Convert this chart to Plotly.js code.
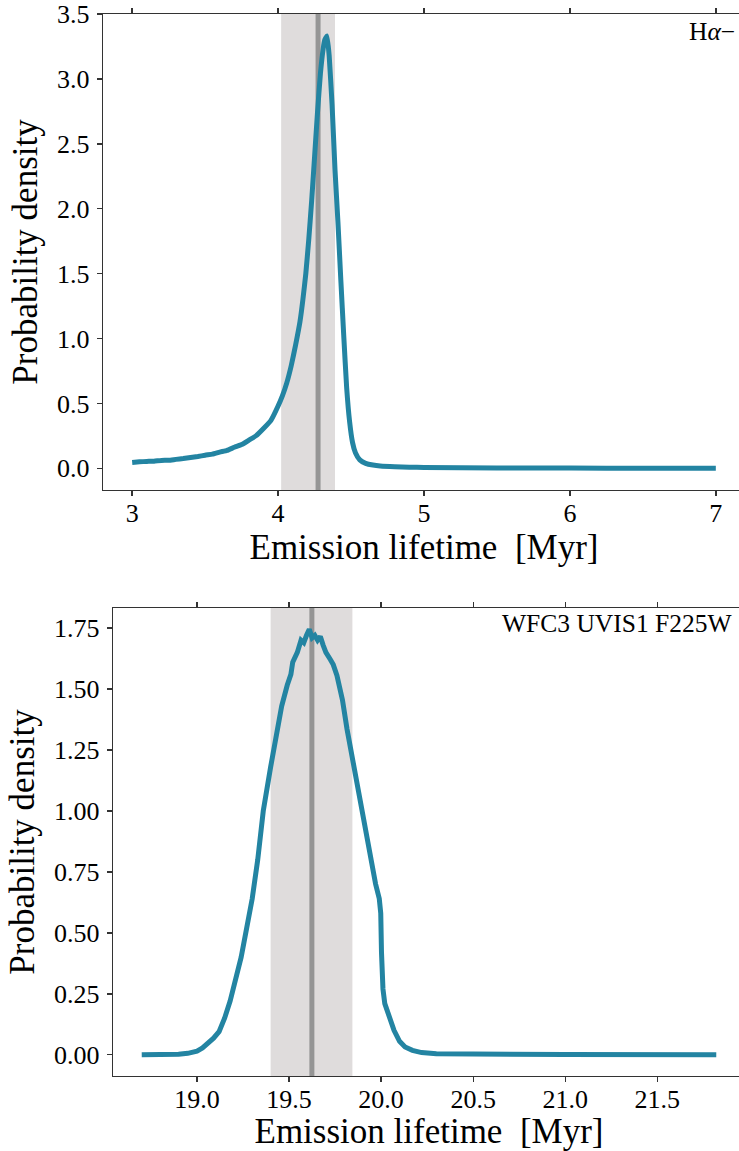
<!DOCTYPE html>
<html>
<head>
<meta charset="utf-8">
<script src="https://cdn.plot.ly/plotly-3.0.1.min.js"></script>
<style>
  html, body { margin: 0; padding: 0; background: #ffffff; overflow: hidden; width: 739px; height: 1151px; }
  #chart { width: 746px; height: 1151px; }
</style>
</head>
<body>
<div id="chart"></div>
<script>
// H-alpha emission lifetime posterior
const haLifetime = [3.00, 3.05, 3.10, 3.15, 3.20, 3.25, 3.30, 3.35, 3.40, 3.45, 3.50, 3.55, 3.60,
  3.65, 3.70, 3.75, 3.80, 3.85, 3.90, 3.95, 4.00, 4.03, 4.06, 4.09, 4.12, 4.15, 4.17, 4.19, 4.21,
  4.23, 4.25, 4.27, 4.29, 4.31, 4.32, 4.335, 4.35, 4.37, 4.39, 4.41, 4.43, 4.45, 4.47, 4.49, 4.51,
  4.53, 4.56, 4.60, 4.65, 4.70, 4.80, 4.90, 5.00, 5.50, 6.00, 6.50, 7.00];
const haDensity = [0.045, 0.050, 0.053, 0.055, 0.061, 0.062, 0.069, 0.075, 0.083, 0.091, 0.101, 0.109, 0.125,
  0.138, 0.162, 0.183, 0.217, 0.252, 0.307, 0.368, 0.480, 0.56, 0.66, 0.79, 0.95, 1.13, 1.30, 1.50, 1.76,
  2.06, 2.40, 2.74, 3.04, 3.24, 3.30, 3.33, 3.18, 2.80, 2.30, 1.90, 1.45, 1.02, 0.62, 0.36, 0.20,
  0.12, 0.065, 0.038, 0.025, 0.018, 0.012, 0.009, 0.006, 0.003, 0.002, 0.001, 0.000];
const haMedian = [4.274];
const haInterval = [4.021, 4.390];

// WFC3 UVIS1 F225W emission lifetime posterior
const uvLifetime = [18.70, 18.80, 18.90, 18.95, 19.00, 19.03, 19.06, 19.09, 19.12, 19.15, 19.18, 19.21,
  19.24, 19.27, 19.30, 19.33, 19.36, 19.40, 19.43, 19.46, 19.49, 19.51, 19.52, 19.545, 19.565, 19.58,
  19.595, 19.61, 19.625, 19.64, 19.655, 19.67, 19.685, 19.70, 19.725, 19.74, 19.76, 19.79, 19.815,
  19.85, 19.89, 19.92, 19.95, 19.97, 19.99, 19.998, 20.002, 20.01, 20.02, 20.04, 20.07, 20.10, 20.13,
  20.17, 20.22, 20.30, 20.50, 21.00, 21.82];
const uvDensity = [0.000, 0.000, 0.002, 0.006, 0.015, 0.028, 0.045, 0.068, 0.095, 0.150, 0.220, 0.310,
  0.400, 0.520, 0.640, 0.800, 1.000, 1.180, 1.310, 1.430, 1.515, 1.560, 1.610, 1.650, 1.700, 1.690,
  1.720, 1.745, 1.710, 1.720, 1.700, 1.715, 1.680, 1.650, 1.620, 1.600, 1.555, 1.455, 1.335,
  1.185, 1.030, 0.885, 0.760, 0.700, 0.640, 0.580, 0.420, 0.270, 0.210, 0.165, 0.100, 0.055, 0.032,
  0.018, 0.009, 0.004, 0.002, 0.001, 0.000];
const uvMedian = [19.624];
const uvInterval = [19.400, 19.844];

const panelLabels = ['H<i>α</i>−', 'WFC3 UVIS1 F225W'];
const haTicksX = [3, 4, 5, 6, 7];
const haTicksY = [0, 0.5, 1.0, 1.5, 2.0, 2.5, 3.0, 3.5];
const uvTicksX = [19.0, 19.5, 20.0, 20.5, 21.0, 21.5];
const uvTicksY = [0, 0.25, 0.5, 0.75, 1.0, 1.25, 1.5, 1.75];

const W = 746, H = 1151;
const curveColor = '#2384a2';
const bandColor = '#dfdcdc';
const medianColor = '#959595';
const axisColor = '#333333';
const serif = 'Liberation Serif, Times New Roman, serif';

const traces = [
  { x: haLifetime, y: haDensity, xaxis: 'x', yaxis: 'y', type: 'scatter', mode: 'lines',
    line: { color: curveColor, width: 5, shape: 'spline', smoothing: 0.4 }, hoverinfo: 'skip', showlegend: false },
  { x: uvLifetime, y: uvDensity, xaxis: 'x2', yaxis: 'y2', type: 'scatter', mode: 'lines',
    line: { color: curveColor, width: 5 }, hoverinfo: 'skip', showlegend: false }
];

function band(xref, yref, lo, hi) {
  return { type: 'rect', xref: xref, yref: yref + ' domain', x0: lo, x1: hi, y0: 0, y1: 1,
    fillcolor: bandColor, line: { width: 0 }, layer: 'below' };
}
function medianLine(xref, yref, v) {
  return { type: 'line', xref: xref, yref: yref + ' domain', x0: v, x1: v, y0: 0, y1: 1,
    line: { color: medianColor, width: 5 }, layer: 'below' };
}

const tickFont = { family: serif, size: 26, color: '#000000' };
const titleFont = { family: serif, size: 35, color: '#000000' };

function xAxis(domain, range, ticks, fmt, anchor) {
  return { domain: domain, range: range, anchor: anchor, tickmode: 'array', tickvals: ticks,
    tickformat: fmt, showline: true, linecolor: axisColor, linewidth: 1.4, mirror: 'ticks',
    ticks: 'outside', ticklen: 5, tickwidth: 1.4, tickcolor: axisColor, tickfont: tickFont,
    showgrid: false, zeroline: false, ticklabelstandoff: -6,
    title: { text: 'Emission lifetime  [Myr]', font: titleFont, standoff: 4 } };
}
function yAxis(domain, range, ticks, fmt, anchor) {
  return { domain: domain, range: range, anchor: anchor, tickmode: 'array', tickvals: ticks,
    tickformat: fmt, showline: true, linecolor: axisColor, linewidth: 1.4, mirror: false,
    ticks: 'outside', ticklen: 5, tickwidth: 1.4, tickcolor: axisColor, tickfont: tickFont,
    showgrid: false, zeroline: false, ticklabelstandoff: 2,
    title: { text: 'Probability density', font: titleFont, standoff: 8 } };
}

const layout = {
  width: W, height: H,
  margin: { l: 0, r: 0, t: 0, b: 0, autoexpand: false },
  paper_bgcolor: '#ffffff', plot_bgcolor: '#ffffff',
  showlegend: false,
  xaxis: xAxis([103 / W, 745 / W], [2.8, 7.2], haTicksX, 'd', 'y'),
  yaxis: yAxis([(H - 490) / H, (H - 14) / H], [-0.167, 3.5], haTicksY, '.1f', 'x'),
  xaxis2: xAxis([113 / W, 745 / W], [18.544, 21.976], uvTicksX, '.1f', 'y2'),
  yaxis2: yAxis([(H - 1076) / H, (H - 608) / H], [-0.087, 1.832], uvTicksY, '.2f', 'x2'),
  shapes: [
    band('x', 'y', haInterval[0], haInterval[1]),
    medianLine('x', 'y', haMedian[0]),
    band('x2', 'y2', uvInterval[0], uvInterval[1]),
    medianLine('x2', 'y2', uvMedian[0])
  ],
  annotations: [
    { text: panelLabels[0], xref: 'paper', yref: 'paper', x: 737 / W, y: (H - 15) / H,
      xanchor: 'right', yanchor: 'top', showarrow: false, font: { family: serif, size: 25.5, color: '#000000' } },
    { text: panelLabels[1], xref: 'paper', yref: 'paper', x: 734 / W, y: (H - 607) / H,
      xanchor: 'right', yanchor: 'top', showarrow: false, font: { family: serif, size: 25.5, color: '#000000' } }
  ]
};

Plotly.newPlot('chart', traces, layout, { staticPlot: true, displayModeBar: false });
</script>
</body>
</html>
